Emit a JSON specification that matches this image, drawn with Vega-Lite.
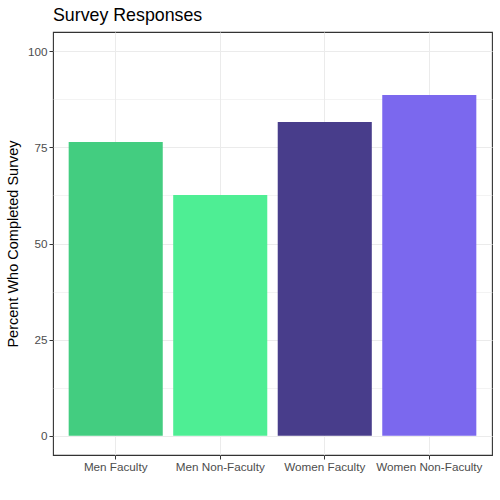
{
  "$schema": "https://vega.github.io/schema/vega-lite/v6.json",
  "width": 439,
  "height": 423,
  "autosize": {"type": "none"},
  "padding": {"left": 53, "top": 32, "right": 8, "bottom": 45},
  "background": "white",
  "title": {
    "text": "Survey Responses",
    "anchor": "start",
    "frame": "group",
    "font": "Liberation Sans",
    "fontSize": 17.8,
    "fontWeight": "normal",
    "color": "black",
    "offset": 7
  },
  "data": {
    "values": [
      {"group": "Men Faculty", "pct": 76.4},
      {"group": "Men Non-Faculty", "pct": 62.6},
      {"group": "Women Faculty", "pct": 81.6},
      {"group": "Women Non-Faculty", "pct": 88.6}
    ]
  },
  "mark": {"type": "bar"},
  "encoding": {
    "x": {
      "field": "group",
      "type": "nominal",
      "sort": null,
      "scale": {"paddingInner": 0.1, "paddingOuter": 0.15},
      "axis": {
        "title": null,
        "labelAngle": 0,
        "grid": true,
        "bandPosition": 0.5,
        "domain": false
      }
    },
    "y": {
      "field": "pct",
      "type": "quantitative",
      "scale": {"domain": [-5, 105], "nice": false, "zero": false},
      "axis": {
        "title": "Percent Who Completed Survey",
        "values": [0, 12.5, 25, 37.5, 50, 62.5, 75, 87.5, 100],
        "labelExpr": "datum.value % 25 === 0 ? datum.label : ''",
        "tickOpacity": {"condition": {"test": "datum.value % 25 === 0", "value": 1}, "value": 0},
        "gridWidth": {"condition": {"test": "datum.value % 25 === 0", "value": 1}, "value": 0.6},
        "domain": false,
        "titlePadding": 7
      }
    },
    "y2": {"datum": 0},
    "color": {
      "field": "group",
      "type": "nominal",
      "scale": {
        "domain": ["Men Faculty", "Men Non-Faculty", "Women Faculty", "Women Non-Faculty"],
        "range": ["#43CD80", "#4EEE94", "#483D8B", "#7B68EE"]
      },
      "legend": null
    }
  },
  "config": {
    "view": {"stroke": "#333333", "strokeWidth": 1.1},
    "axis": {
      "labelFont": "Liberation Sans",
      "labelFontSize": 11.7,
      "labelColor": "#4D4D4D",
      "labelPadding": 2,
      "tickColor": "#333333",
      "tickSize": 4,
      "tickWidth": 1,
      "gridColor": "#EBEBEB",
      "titleFont": "Liberation Sans",
      "titleFontSize": 14.5,
      "titleFontWeight": "normal",
      "titleColor": "black"
    }
  }
}
